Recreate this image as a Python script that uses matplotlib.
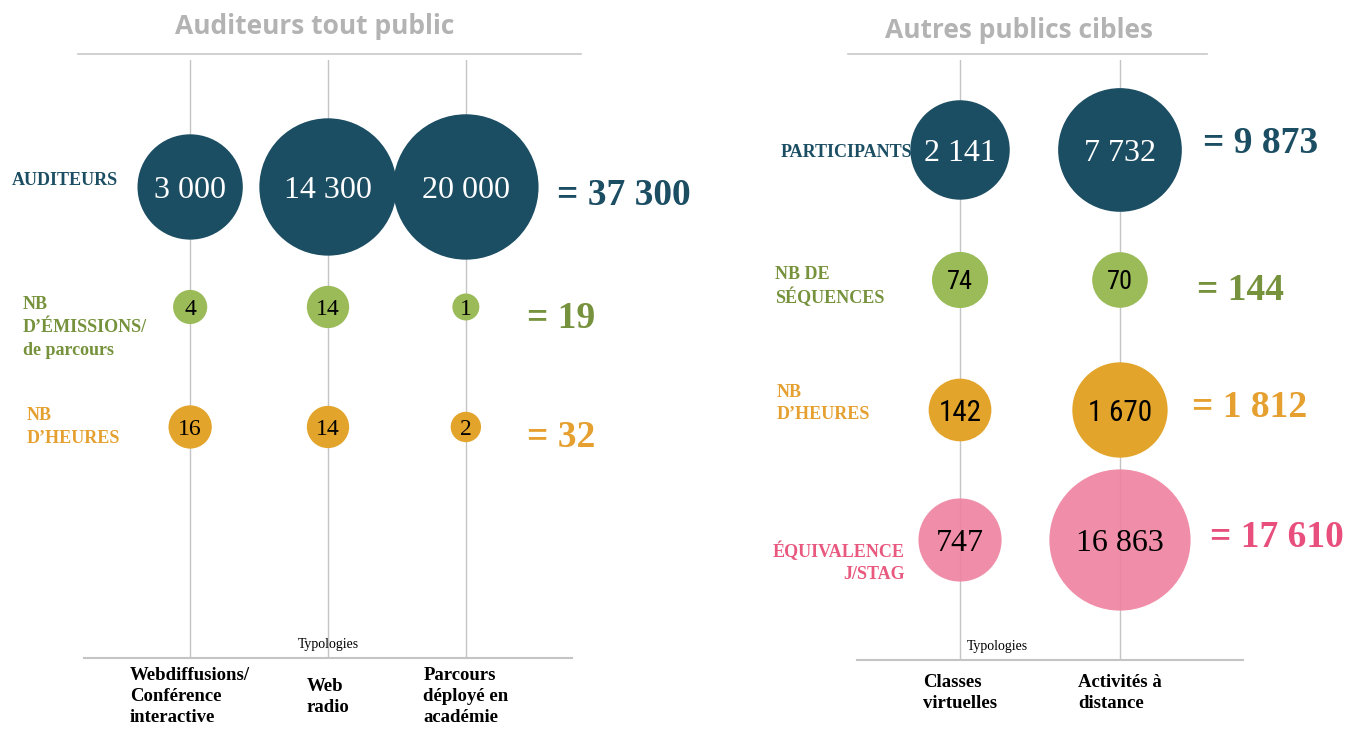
import matplotlib.pyplot as plt
from matplotlib.lines import Line2D

# --- data read from the infographic ---
left_typologies = ['Webdiffusions/\nConférence\ninteractive', 'Web\nradio', 'Parcours\ndéployé en\nacadémie']
left_rows = ['AUDITEURS', 'NB\nD’ÉMISSIONS/\nde parcours', 'NB\nD’HEURES']
left_auditeurs = [3000, 14300, 20000]
left_emissions = [4, 14, 1]
left_heures = [16, 14, 2]

right_typologies = ['Classes\nvirtuelles', 'Activités à\ndistance']
right_rows = ['PARTICIPANTS', 'NB DE\nSÉQUENCES', 'NB\nD’HEURES', 'ÉQUIVALENCE\nJ/STAG']
right_participants = [2141, 7732]
right_sequences = [74, 70]
right_heures = [142, 1670]
right_jstag = [747, 16863]

BLUE = '#1b4d63'
GREEN, GREEN_TXT = '#9bbb59', '#76923c'
ORANGE, ORANGE_TXT = '#e2a42a', '#e5a030'
PINK, PINK_TXT = '#ef82a0', '#e8587f'
GRID = '#c4c4c4'
SERIF = 'Liberation Serif'
NARROW = ['Liberation Sans Narrow', 'Roboto Condensed', 'DejaVu Sans']

DPI = 100


def fmt(v):
    return f'{v:,}'.replace(',', ' ')


def bubble_area(v):
    # power scale: radius in pixels -> marker area in points^2
    r = 13.5 * v ** 0.17
    return (2 * r * 72 / DPI) ** 2


def draw_panel(ax, typologies, rows, series, styles, xlim, ylim):
    n = len(typologies)
    xs = list(range(n))
    for i, (vals, st) in enumerate(zip(series, styles)):
        ax.scatter(xs, [i] * n, s=[bubble_area(v) for v in vals], color=st['color'],
                   alpha=st.get('alpha', 1), linewidths=0, zorder=2)
        for x, v in zip(xs, vals):
            ax.text(x, i, fmt(v), ha='center', va='center_baseline', color=st['num_color'],
                    fontsize=st['num_size'], family=st['num_font'], zorder=3)
    ax.set_xlim(*xlim)
    ax.set_ylim(*ylim)
    ax.set_xticks(xs)
    ax.set_xticklabels(typologies, family=SERIF, fontweight='bold', fontsize=13.5,
                       linespacing=1.3)
    for lbl in ax.get_xticklabels():
        lbl.set_va('center')
        lbl.set_multialignment('left')
    ax.set_yticks([])
    ax.tick_params(axis='x', length=0)
    ax.grid(axis='x', color=GRID, lw=1)
    ax.set_axisbelow(True)
    for s in ['top', 'left', 'right']:
        ax.spines[s].set_visible(False)
    ax.spines['bottom'].set_color(GRID)
    ax.spines['bottom'].set_linewidth(1.5)
    ax.set_facecolor('none')


fig = plt.figure(figsize=(13.47, 7.31), dpi=DPI)

# ---------- left panel ----------
axL = fig.add_axes([84 / 1347, 73 / 731, 488 / 1347, 598 / 731])
left_series = [left_auditeurs, left_emissions, left_heures]
left_styles = [
    dict(color=BLUE, num_color='white', num_size=23, num_font=SERIF, txt=BLUE),
    dict(color=GREEN, num_color='black', num_size=17, num_font=SERIF, txt=GREEN_TXT),
    dict(color=ORANGE, num_color='black', num_size=17, num_font=SERIF, txt=ORANGE_TXT),
]
draw_panel(axL, left_typologies, left_rows, left_series, left_styles,
           (-0.77, 2.77), (3.925, -1.058))
axL.tick_params(axis='x', pad=28)

label_x = [-0.1475, -0.1256, -0.117]
label_dy = [-0.05, 0.17, 0.0]
total_x = [0.969, 0.908, 0.908]
total_dy = [0.07, 0.1, 0.09]
tr = axL.get_yaxis_transform()
for i, (name, vals, st) in enumerate(zip(left_rows, left_series, left_styles)):
    axL.text(label_x[i], i + label_dy[i], name, transform=tr, ha='left', va='center',
             family=SERIF, fontweight='bold', fontsize=13, color=st['txt'],
             linespacing=1.45)
    axL.text(total_x[i], i + total_dy[i], '= ' + fmt(sum(vals)), transform=tr,
             ha='left', va='center', family=SERIF, fontweight='bold', fontsize=27,
             color=st['txt'] if i else BLUE)
axL.text(0.5, 0.012, 'Typologies', transform=axL.transAxes, ha='center', va='bottom',
         family=SERIF, fontsize=10)

# ---------- right panel ----------
axR = fig.add_axes([857 / 1347, 71 / 731, 386 / 1347, 600 / 731])
right_series = [right_participants, right_sequences, right_heures, right_jstag]
right_styles = [
    dict(color=BLUE, num_color='white', num_size=23, num_font=SERIF, txt=BLUE),
    dict(color=GREEN, num_color='black', num_size=19, num_font=NARROW, txt=GREEN_TXT),
    dict(color=ORANGE, num_color='black', num_size=21, num_font=NARROW, txt=ORANGE_TXT),
    dict(color=PINK, num_color='black', num_size=23, num_font=SERIF, txt=PINK_TXT, alpha=0.9),
]
draw_panel(axR, right_typologies, right_rows, right_series, right_styles,
           (-0.644, 1.769), (3.923, -0.692))
axR.tick_params(axis='x', pad=24)

label_x = [0.1425, -0.212, -0.207, 0.124]
label_ha = ['right', 'left', 'left', 'right']
label_dy = [0.02, 0.05, -0.05, 0.17]
total_x = [0.896, 0.881, 0.868, 0.915]
total_dy = [-0.05, 0.08, -0.02, -0.02]
tr = axR.get_yaxis_transform()
for i, (name, vals, st) in enumerate(zip(right_rows, right_series, right_styles)):
    axR.text(label_x[i], i + label_dy[i], name, transform=tr, ha=label_ha[i], va='center',
             multialignment=label_ha[i], family=SERIF, fontweight='bold', fontsize=13,
             color=st['txt'], linespacing=1.35)
    axR.text(total_x[i], i + total_dy[i], '= ' + fmt(sum(vals)), transform=tr,
             ha='left', va='center', family=SERIF, fontweight='bold', fontsize=27,
             color=st['txt'] if i != 3 else '#e84f7d')
axR.text(0.285, 0.012, 'Typologies', transform=axR.transAxes, ha='left', va='bottom',
         family=SERIF, fontsize=10)

# ---------- titles ----------
fig.text(315 / 1347, 1 - 27 / 731, 'Auditeurs tout public', ha='center', va='center',
         family='Open Sans', fontweight='bold', fontsize=19, color='#b3b3b3')
fig.text(1019 / 1347, 1 - 30 / 731, 'Autres publics cibles', ha='center', va='center',
         family='Open Sans', fontweight='bold', fontsize=19, color='#b3b3b3')
fig.add_artist(Line2D([78 / 1347, 581 / 1347], [1 - 54 / 731] * 2, color='#c8c8c8', lw=1.2))
fig.add_artist(Line2D([848 / 1347, 1207 / 1347], [1 - 54 / 731] * 2, color='#c8c8c8', lw=1.2))

fig.savefig('out.png', dpi=DPI, facecolor='white')
